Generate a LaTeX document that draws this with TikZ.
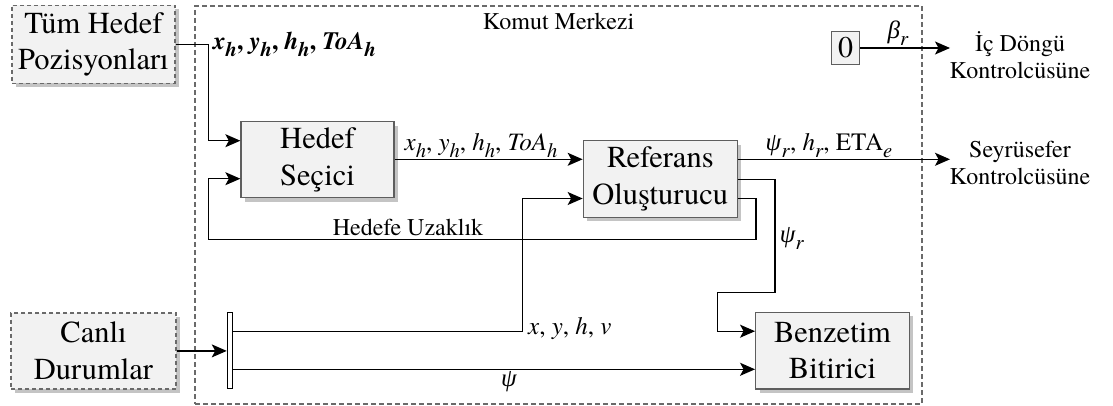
\documentclass[tikz,border=0pt]{standalone}
\usepackage{fontspec}
\setmainfont{texgyretermes-regular.otf}[BoldFont=texgyretermes-bold.otf, ItalicFont=texgyretermes-italic.otf, BoldItalicFont=texgyretermes-bolditalic.otf]
\newfontfamily\grk{Liberation Serif}
\usetikzlibrary{arrows.meta,shadows,calc}
\definecolor{boxfill}{HTML}{F2F2F2}
\definecolor{boxdraw}{HTML}{5E5E5E}
\definecolor{shad}{HTML}{C4C4C4}
\definecolor{dashc}{HTML}{6A6A6A}
\newcommand{\sbs}[1]{\raisebox{-0.28em}{\scalebox{0.82}{\textit{#1}}}}
\newcommand{\vs}[2]{\textit{#1}\sbs{#2}}
\begin{document}
\begin{tikzpicture}[x=1pt,y=-1pt,
  blk/.style={draw=boxdraw, line width=1.3pt, fill=boxfill,
    drop shadow={shadow xshift=4pt,shadow yshift=-4pt,fill=shad,opacity=1},
    align=center, font=\rmfamily\fontsize{30.5}{36.5}\selectfont, inner sep=0pt},
  ext/.style={blk, draw=dashc, dash pattern=on 4pt off 3pt},
  arr/.style={-{Stealth[length=15pt,width=13pt,inset=3.5pt]}, line width=1.3pt},
  ln/.style={line width=1.3pt},
  lbl/.style={font=\rmfamily\fontsize{24}{27}\selectfont, inner sep=0pt, align=center},
  mlbl/.style={lbl, font=\rmfamily\fontsize{25}{28}\selectfont}
]
\useasboundingbox (0,0) rectangle (1113,406);
% outer frame
\node[draw=dashc, line width=1.2pt, dash pattern=on 5pt off 3pt, minimum width=727pt, minimum height=398pt, inner sep=0pt] (km) at (558.5,205) {};
\node[lbl, anchor=north] (kmlbl) at ([yshift=-8pt]km.north) {Komut Merkezi};
% blocks
\node[ext, minimum width=163pt, minimum height=78pt] (tum) at (93.4,44.2) {Tüm Hedef\\Pozisyonları};
\node[ext, minimum width=165pt, minimum height=76pt] (can) at (93.5,350.9) {Canlı\\Durumlar};
\node[blk, minimum width=153pt, minimum height=76pt] (hs) at (317.5,159.7) {Hedef\\Seçici};
\node[blk, minimum width=154pt, minimum height=76.6pt] (ro) at (660.3,179) {Referans\\Oluşturucu};
\node[blk, minimum width=153.6pt, minimum height=76.7pt] (bb) at (832.5,350.7) {Benzetim\\Bitirici};
\node[draw=boxdraw, line width=1.3pt, fill=boxfill, minimum width=28pt, minimum height=33pt, inner sep=0pt, font=\rmfamily\fontsize{30}{36}\selectfont] (zero) at (845.5,48) {0};
\node[draw=black, line width=1.1pt, fill=white, minimum width=5pt, minimum height=76pt, inner sep=0pt] (bar) at (229.8,350.9) {};
% outside targets
\node[lbl] (icd) at (1020,55) {İç Döngü\\Kontrolcüsüne};
\node[lbl] (sey) at (1020,163) {Seyrüsefer\\Kontrolcüsüne};
\coordinate (icdin) at (950,48);
\coordinate (seyin) at (950,159.3);
% connectors
\draw[arr] (tum.east) -| (208.3,100) |- ([yshift=19pt]hs.west);
\node[mlbl, anchor=west] (l1) at (213,44) {\bfseries\vs{x}{h}, \vs{y}{h}, \vs{h}{h}, \vs{ToA}{h}};
\draw[arr] (hs.east |- 0,159.3) -- ([yshift=19.7pt]ro.west);
\node[mlbl] (l2) at (481,146) {\vs{x}{h}, \vs{y}{h}, \vs{h}{h}, \vs{ToA}{h}};
\draw[arr] ([yshift=19.7pt]ro.east) -- (seyin);
\node[mlbl] (l3) at (829,146) {\vs{\grk ψ}{r}, \vs{h}{r}, ETA\sbs{e}};
\draw[arr] (zero.east) -- (icdin);
\node[mlbl] (l4) at (898,33) {\vs{\grk β}{r}};
\draw[ln,arr] ([yshift=-19.3pt]ro.east) -| (756,239.3) -| ([yshift=-19pt]hs.west -| 208.3,0) -- ([yshift=-19pt]hs.west);
\node[lbl] (l5) at (408,227) {Hedefe Uzaklık};
\draw[arr] (ro.east |- 0,179.3) -| (775,292.7) -| (717.3,320) |- ([yshift=19.5pt]bb.west);
\node[mlbl] (l6) at (792,238) {\vs{\grk ψ}{r}};
\draw[arr] (can.east) -- (bar.west);
\draw[arr] (bar.east |- 0,331.7) -| (522.5,260) |- ([yshift=-19.5pt]ro.west);
\node[mlbl, anchor=west] (l7) at (528,329) {\textit{x}, \textit{y}, \textit{h}, \textit{v}};
\draw[arr] (bar.east |- 0,369.3) -- ([yshift=-18.6pt]bb.west);
\node[mlbl] (l8) at (509,382) {\textit{\grk ψ}};
\end{tikzpicture}
\end{document}
